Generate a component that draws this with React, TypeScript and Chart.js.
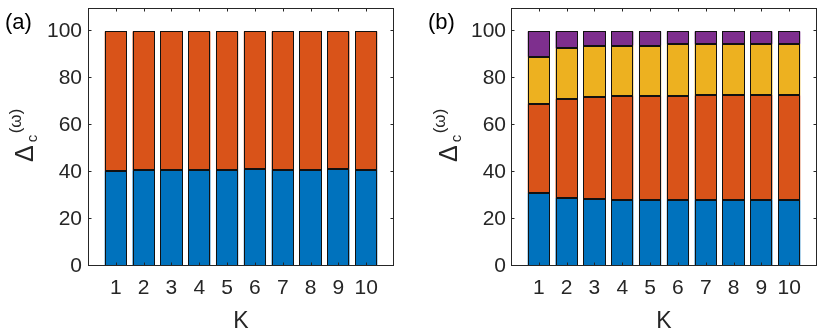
import React, { useEffect, useRef } from "react";
import { Chart, registerables } from "chart.js";

Chart.register(...registerables);

const K = [1, 2, 3, 4, 5, 6, 7, 8, 9, 10];
const Y_TICKS = [0, 20, 40, 60, 80, 100];

// Panel (a)
const A_BLUE = [40.5, 40.8, 40.8, 41.0, 41.0, 41.3, 41.0, 41.1, 41.2, 41.1];
const A_ORANGE = A_BLUE.map((v) => 100 - v);

// Panel (b)
const B_BLUE = [31.1, 29.0, 28.7, 28.3, 28.3, 28.3, 28.3, 28.3, 28.3, 28.0];
const B_ORANGE = [38.1, 42.3, 43.3, 44.1, 44.1, 44.1, 44.4, 44.6, 44.6, 44.7];
const B_YELLOW = [20.0, 21.45, 21.6, 21.6, 21.6, 22.2, 21.9, 21.8, 21.7, 22.0];
const B_PURPLE = [10.8, 7.25, 6.4, 6.0, 6.0, 5.4, 5.4, 5.3, 5.4, 5.3];

const COLORS = ["#0072BD", "#D95319", "#EDB120", "#7E2F8E"];
const FONT = "'Liberation Sans', Arial, Helvetica, sans-serif";
const AXIS_COLOR = "#262626";

type PanelCfg = {
  letter: string;
  letterX: number;
  labelX: number; // baseline x of rotated y label
  yAxisWidth: number;
  rightPad: number;
  tickPad: number;
};

const framePlugin = {
  id: "frameTicks",
  afterDatasetsDraw(chart: any) {
    const { ctx, chartArea: a, scales } = chart;
    ctx.save();
    // bar edges
    ctx.strokeStyle = "#111";
    ctx.lineWidth = 1;
    chart.data.datasets.forEach((_: any, i: number) => {
      const meta = chart.getDatasetMeta(i);
      meta.data.forEach((el: any) => {
        const { x, y, base, width } = el.getProps(["x", "y", "base", "width"], true);
        const l = Math.round(x - width / 2) + 0.5;
        const r = Math.round(x + width / 2) - 0.5;
        const t = Math.round(Math.min(y, base)) + 0.5;
        const b = Math.round(Math.max(y, base)) - 0.5;
        ctx.strokeRect(l, t, r - l, b - t);
      });
    });
    ctx.strokeStyle = AXIS_COLOR;
    ctx.beginPath();
    const L = Math.round(a.left) + 0.5;
    const R = Math.round(a.right) - 0.5;
    const T = Math.round(a.top) + 0.5;
    const B = Math.round(a.bottom) - 0.5;
    const tl = 3;
    for (const v of Y_TICKS) {
      const y = Math.round(scales.y.getPixelForValue(v)) - 0.5;
      ctx.moveTo(L, y);
      ctx.lineTo(L + tl, y);
      ctx.moveTo(R, y);
      ctx.lineTo(R - tl, y);
    }
    for (const k of K) {
      const x = Math.round(scales.x.getPixelForValue(k)) + 0.5;
      ctx.moveTo(x, B);
      ctx.lineTo(x, B - tl);
      ctx.moveTo(x, T);
      ctx.lineTo(x, T + tl);
    }
    ctx.stroke();
    ctx.strokeRect(L, T, R - L, B - T);
    ctx.restore();
  },
  afterDraw(chart: any) {
    const cfg: PanelCfg = chart.options.plugins.frameTicks;
    const { ctx, chartArea: a } = chart;
    ctx.save();
    ctx.fillStyle = "#000";
    ctx.textBaseline = "alphabetic";
    ctx.textAlign = "left";
    // panel letter
    ctx.font = `22px ${FONT}`;
    ctx.fillText(cfg.letter, cfg.letterX, 29);
    // x label
    ctx.fillStyle = AXIS_COLOR;
    ctx.textAlign = "center";
    ctx.font = `23px ${FONT}`;
    ctx.fillText("K", (a.left + a.right) / 2, 328);
    // y label: Δ_c^{(ω)} rotated
    ctx.translate(cfg.labelX, 162);
    ctx.rotate(-Math.PI / 2);
    ctx.textAlign = "left";
    ctx.font = `25px ${FONT}`;
    ctx.fillText("\u0394", 0, 0);
    const w = ctx.measureText("\u0394").width;
    ctx.font = `15px ${FONT}`;
    ctx.fillText("c", w + 3, 4);
    ctx.font = `17px ${FONT}`;
    ctx.fillText("(\u03c9)", w + 12, -12);
    ctx.restore();
  },
};

function makeChart(canvas: HTMLCanvasElement, series: number[][], cfg: PanelCfg) {
  return new Chart(canvas, {
    type: "bar",
    data: {
      datasets: series.map((vals, i) => ({
        label: `s${i}`,
        data: K.map((k, j) => ({ x: k, y: vals[j] })),
        backgroundColor: COLORS[i],
        borderWidth: 0,
        barPercentage: 0.8,
        categoryPercentage: 1,
      })),
    },
    options: {
      animation: false,
      responsive: false,
      maintainAspectRatio: false,
      layout: { padding: { left: 0, top: 8, right: cfg.rightPad, bottom: 0 } },
      plugins: {
        legend: { display: false },
        tooltip: { enabled: false },
        frameTicks: cfg,
      } as any,
      scales: {
        x: {
          type: "linear",
          stacked: true,
          offset: false,
          min: 0,
          max: 11,
          afterBuildTicks: (s: any) => {
            s.ticks = K.map((v) => ({ value: v }));
          },
          afterFit: (s: any) => {
            s.height = 68;
            s.paddingLeft = 0;
            s.paddingRight = 0;
          },
          grid: { display: false, drawTicks: false },
          border: { display: false },
          ticks: {
            autoSkip: false,
            maxRotation: 0,
            padding: 10,
            color: AXIS_COLOR,
            font: { family: FONT, size: 21 },
            callback: (v: any) => String(v),
          },
        },
        y: {
          type: "linear",
          stacked: true,
          min: 0,
          max: 110,
          afterBuildTicks: (s: any) => {
            s.ticks = Y_TICKS.map((v) => ({ value: v }));
          },
          afterFit: (s: any) => {
            s.width = cfg.yAxisWidth;
            s.paddingTop = 0;
            s.paddingBottom = 0;
          },
          grid: { display: false, drawTicks: false },
          border: { display: false },
          ticks: {
            padding: cfg.tickPad,
            color: AXIS_COLOR,
            font: { family: FONT, size: 21 },
          },
        },
      },
    } as any,
    plugins: [framePlugin],
  });
}

export default function App() {
  const refA = useRef<HTMLCanvasElement>(null);
  const refB = useRef<HTMLCanvasElement>(null);
  useEffect(() => {
    const ca = makeChart(refA.current!, [A_BLUE, A_ORANGE], {
      letter: "(a)",
      letterX: 5,
      labelX: 33,
      yAxisWidth: 88,
      rightPad: 21,
      tickPad: 6,
    });
    const cb = makeChart(refB.current!, [B_BLUE, B_ORANGE, B_YELLOW, B_PURPLE], {
      letter: "(b)",
      letterX: 13,
      labelX: 42,
      yAxisWidth: 96,
      rightPad: 13,
      tickPad: 5,
    });
    return () => {
      ca.destroy();
      cb.destroy();
    };
  }, []);
  return (
    <div style={{ position: "fixed", left: 0, top: 0, width: 830, height: 334, background: "#fff" }}>
      <canvas ref={refA} width={415} height={334} style={{ position: "absolute", left: 0, top: 0, width: 415, height: 334 }} />
      <canvas ref={refB} width={415} height={334} style={{ position: "absolute", left: 415, top: 0, width: 415, height: 334 }} />
    </div>
  );
}
